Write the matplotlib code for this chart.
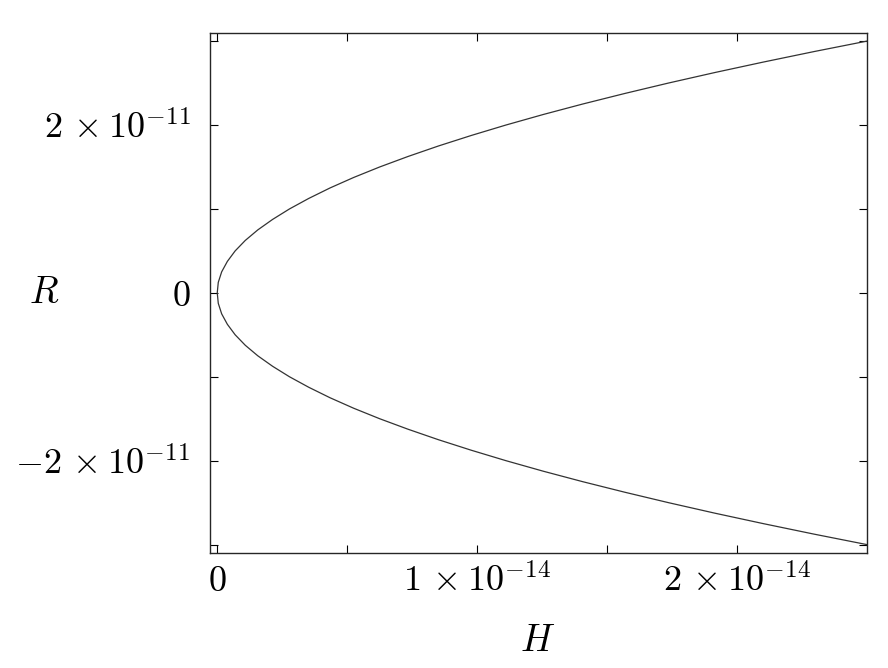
import numpy as np
import matplotlib.pyplot as plt

plt.rcParams['mathtext.fontset'] = 'cm'
plt.rcParams['font.family'] = 'serif'

# upper branch of the curve (R in 1e-11, H in 1e-14)
R_pos = [0.0, 0.125, 0.25, 0.375, 0.5, 0.625, 0.75, 0.875, 1.0, 1.125, 1.25,
         1.375, 1.5, 1.625, 1.75, 1.875, 2.0, 2.125, 2.25, 2.375, 2.5, 2.625,
         2.75, 2.875, 3.0]
H_pos = [0.0, 0.004, 0.017, 0.039, 0.069, 0.108, 0.156, 0.213, 0.278, 0.352,
         0.434, 0.525, 0.625, 0.734, 0.851, 0.977, 1.111, 1.254, 1.406, 1.567,
         1.736, 1.914, 2.101, 2.296, 2.5]

x_ticks = [0, 0.5e-14, 1e-14, 1.5e-14, 2e-14]
x_labels = [r'$0$', '', r'$1\,\times10^{-14}$', '', r'$2\,\times10^{-14}$']
y_ticks = [-3e-11, -2e-11, -1e-11, 0, 1e-11, 2e-11, 3e-11]
y_labels = ['', r'$-2\,\times10^{-11}$', '', r'$0$', '',
            r'$2\,\times10^{-11}$', '']

R = np.array(R_pos) * 1e-11
H = np.array(H_pos) * 1e-14
# both branches as one line
Rs = np.concatenate([-R[::-1], R[1:]])
Hs = np.concatenate([H[::-1], H[1:]])

fig = plt.figure(figsize=(8.88, 6.68), dpi=100)
ax = fig.add_axes([209.7/888, 1-553/668, (867-209.7)/888, (553-32.7)/668])

ax.plot(Hs, Rs, color='0.2', lw=0.9)

ax.set_xlim(-0.029e-14, 2.5e-14)
ax.set_ylim(-3.1e-11, 3.1e-11)
ax.set_xticks(x_ticks)
ax.set_xticklabels(x_labels)
ax.set_yticks(y_ticks)
ax.set_yticklabels(y_labels)
ax.tick_params(direction='in', top=True, right=True, length=5.5, width=0.8,
               labelsize=26)
ax.tick_params(axis='x', pad=8)
ax.tick_params(axis='y', pad=14)
for s in ax.spines.values():
    s.set_linewidth(1.0)
    s.set_color('0.15')

fig.text(44/888, 1-293/668, r'$R$', fontsize=27, ha='center', va='center')
fig.text(538/888, 1-641/668, r'$H$', fontsize=27, ha='center', va='center')

fig.savefig('out.png', dpi=100)
